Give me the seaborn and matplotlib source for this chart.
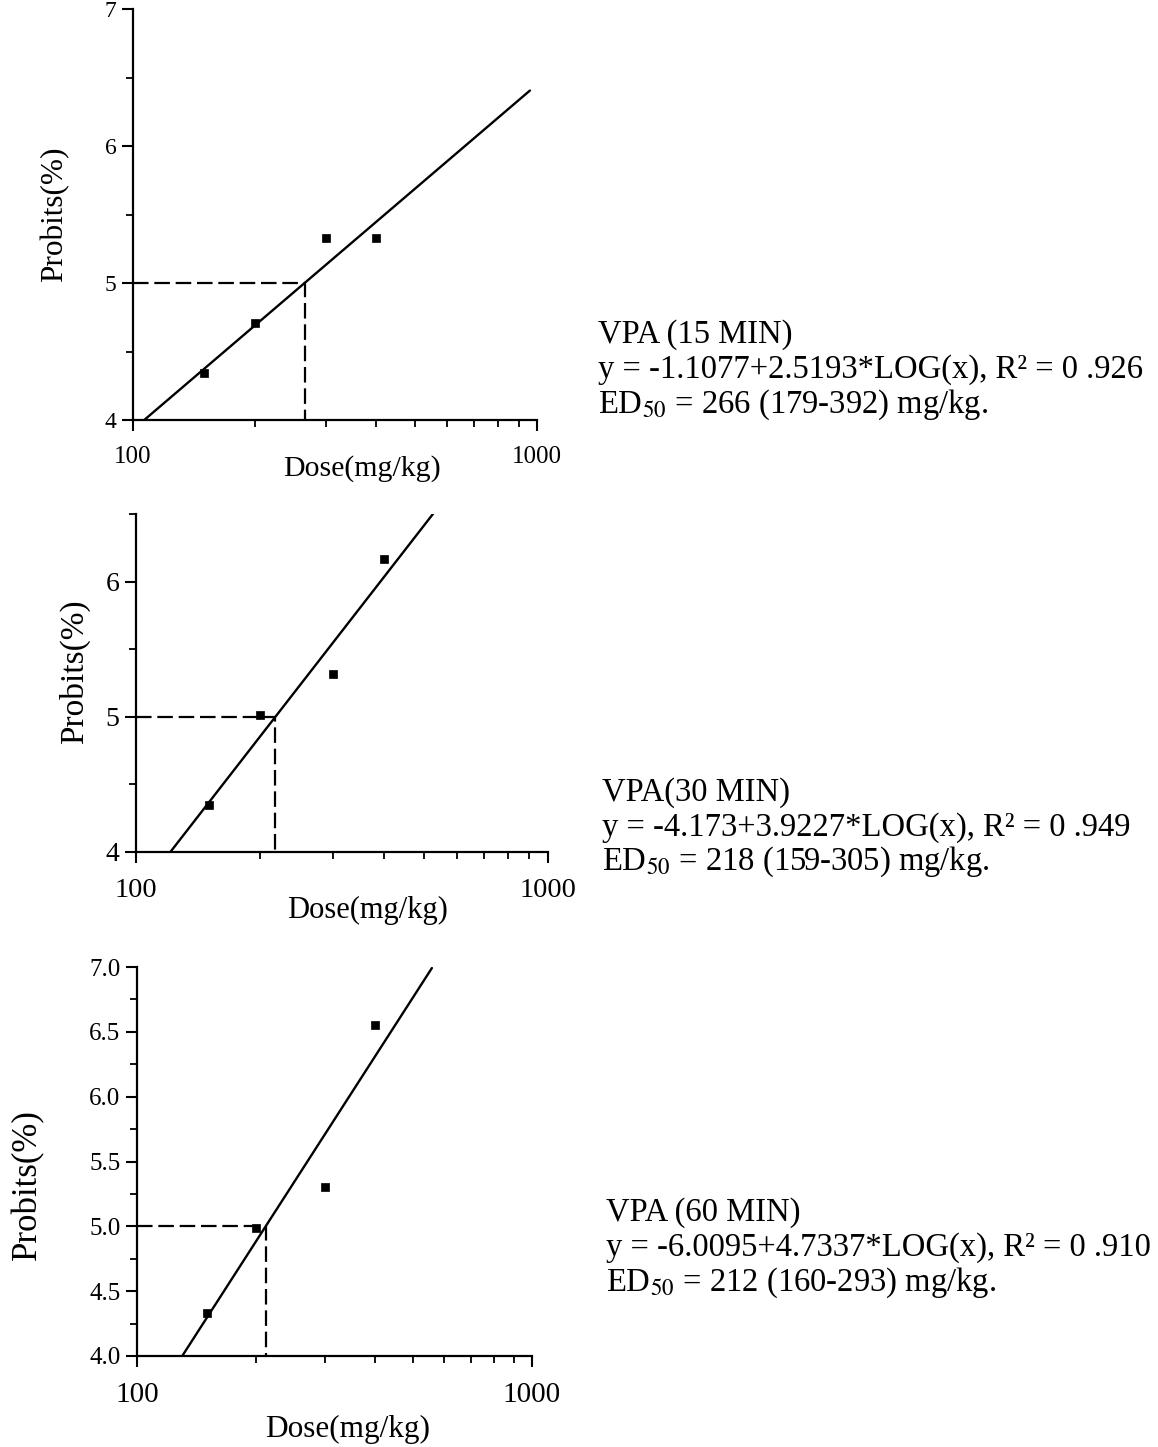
import matplotlib
matplotlib.use("Agg")
import numpy as np
import pandas as pd
import matplotlib.pyplot as plt
import seaborn as sns
from matplotlib.ticker import FixedLocator, MultipleLocator, NullFormatter, FuncFormatter

# --- data -------------------------------------------------------------
doses = [150, 200, 300, 400]                     # mg/kg
probit_15 = [4.34, 4.71, 5.33, 5.33]
probit_30 = [4.35, 5.01, 5.32, 6.17]
probit_60 = [4.33, 4.99, 5.30, 6.55]

titles = ["VPA (15 MIN)", "VPA(30 MIN)", "VPA (60 MIN)"]
intercepts = [-1.1077, -4.173, -6.0095]
slopes = [2.5193, 3.9227, 4.7337]
r_squared = [0.926, 0.949, 0.910]
ed50 = [266, 218, 212]
ed50_low = [179, 159, 160]
ed50_high = [392, 305, 293]
fit_dose_lo = [106.5, 121, 130]
fit_dose_hi = [960, 530, 558]

x_major = [100, 1000]
x_minor = [200, 300, 400, 500, 600, 700, 800, 900]

# --- style ------------------------------------------------------------
sns.set_theme(style="ticks")
plt.rcParams["font.family"] = ["Liberation Serif", "DejaVu Serif"]
plt.rcParams["mathtext.fontset"] = "stix"

fig = plt.figure(figsize=(11.58, 14.47), dpi=100)
fig.patch.set_facecolor("white")

rects = [(0.1149, 0.7097, 0.3489, 0.2840),
         (0.1174, 0.4112, 0.3558, 0.2336),
         (0.1183, 0.0629, 0.3411, 0.2688)]
y_top = [7.0, 6.5, 7.0]
y_major_step = [1.0, 1.0, 0.5]
y_minor_step = [0.5, 0.5, 0.25]
y_fmt = ["{:.0f}", "{:.0f}", "{:.1f}"]
xtick_fs = [18, 20.5, 21]
ytick_fs = [17, 20, 18]
xlabel_fs = [21.5, 22, 22.5]
ylabel_fs = [22.5, 24, 25]
xlabel_pos = [(0.567, -0.117), (0.561, -0.172), (0.534, -0.19)]
ylabel_pos = [(-0.193, 0.50), (-0.148, 0.533), (-0.276, 0.44)]
text_x = [598, 602, 606]
text_y = [(335, 370, 405), (793, 828, 862), (1213, 1248, 1283)]

series = [probit_15, probit_30, probit_60]
W, H = 1158, 1447
dash = (0, (7, 2.6))

for i in range(3):
    ax = fig.add_axes(rects[i])
    ax.set_facecolor("white")
    ax.set_xscale("log")

    df = pd.DataFrame({"dose": doses, "probit": series[i]})

    # fitted probit regression line
    lo, hi = fit_dose_lo[i], fit_dose_hi[i]
    fit = pd.DataFrame({
        "dose": [lo, hi],
        "probit": [intercepts[i] + slopes[i] * np.log10(lo),
                   intercepts[i] + slopes[i] * np.log10(hi)],
    })
    sns.lineplot(data=fit, x="dose", y="probit", color="black", lw=1.7, ax=ax)

    # ED50 guide lines
    ax.plot([100, ed50[i], ed50[i]], [5, 5, 4], color="black", lw=1.6,
            ls=dash, clip_on=False)

    # observed probits
    sns.scatterplot(data=df, x="dose", y="probit", marker="s", s=28,
                    color="black", edgecolor="black", linewidth=0.5,
                    ax=ax, zorder=4)

    ax.set_xlim(100, 1000)
    ax.set_ylim(4, y_top[i])

    ax.xaxis.set_major_locator(FixedLocator(x_major))
    ax.xaxis.set_minor_locator(FixedLocator(x_minor))
    ax.xaxis.set_major_formatter(FuncFormatter(lambda v, p: f"{v:.0f}"))
    ax.xaxis.set_minor_formatter(NullFormatter())
    ax.yaxis.set_major_locator(MultipleLocator(y_major_step[i]))
    ax.yaxis.set_minor_locator(MultipleLocator(y_minor_step[i]))
    fmt = y_fmt[i]
    ax.yaxis.set_major_formatter(FuncFormatter(lambda v, p, fmt=fmt: fmt.format(v)))

    for side in ["top", "right"]:
        ax.spines[side].set_visible(False)
    for side in ["left", "bottom"]:
        ax.spines[side].set_linewidth(1.6)
        ax.spines[side].set_color("black")

    ax.tick_params(which="major", direction="out", length=8, width=1.5,
                   color="black", labelcolor="black")
    ax.tick_params(which="minor", direction="out", length=5, width=1.3,
                   color="black")
    ax.tick_params(axis="x", which="major", pad=11, labelsize=xtick_fs[i])
    ax.tick_params(axis="y", which="major", pad=4, labelsize=ytick_fs[i])

    ax.set_xlabel("Dose(mg/kg)", fontsize=xlabel_fs[i], color="black")
    ax.set_ylabel("Probits(%)", fontsize=ylabel_fs[i], color="black")
    ax.xaxis.label.set_va("center")
    ax.yaxis.label.set_va("center")
    ax.xaxis.set_label_coords(*xlabel_pos[i])
    ax.yaxis.set_label_coords(*ylabel_pos[i])

    # regression summary beside each panel
    lines = [
        titles[i],
        f"y = {intercepts[i]:g}+{slopes[i]:g}*LOG(x), R\u00b2 = 0 {f'{r_squared[i]:.3f}'[1:]}",
        f"ED$_{{50}}$ = {ed50[i]} ({ed50_low[i]}-{ed50_high[i]}) mg/kg.",
    ]
    for txt, yy in zip(lines, text_y[i]):
        fig.text(text_x[i] / W, 1 - yy / H, txt, ha="left", va="center",
                 fontsize=23.5, color="black")

fig.savefig("out.png", dpi=100, facecolor="white")
